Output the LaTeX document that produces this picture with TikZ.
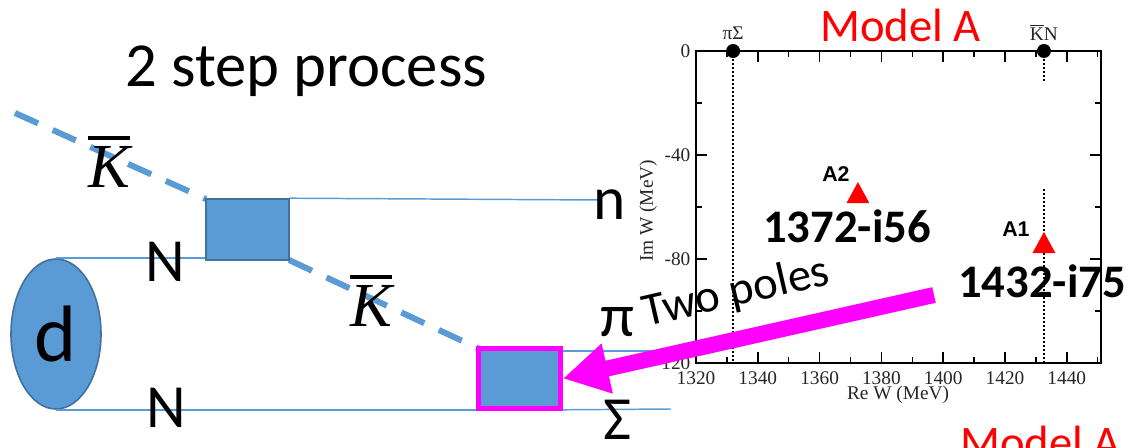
\documentclass[tikz,border=0pt]{standalone}
\usepackage{fontspec}
\setmainfont{Carlito}
\newfontfamily\timesfont{Liberation Serif}
\newfontfamily\arialfont{Liberation Sans}
\usetikzlibrary{shapes.geometric,arrows.meta}
\definecolor{vtxblue}{HTML}{5B9BD5}
\definecolor{vtxedge}{HTML}{41719C}
\definecolor{polered}{HTML}{FF0000}
\definecolor{hilite}{HTML}{FF00FF}
% letter with a bar over it: text, bar thickness, gap
\newcommand{\barred}[3]{\vbox{\hrule height #2\kern #3\hbox{#1}}}
\tikzset{
  vertex/.style={draw=vtxedge,fill=vtxblue,line width=1.2pt,inner sep=0pt},
  leg/.style={draw=vtxblue,line width=1.1pt},
  kaon/.style={draw=vtxblue,line width=4.5pt,dash pattern=on 19pt off 12pt},
  particle/.style={font=\fontsize{46}{50}\selectfont,inner sep=0pt,anchor=base},
  axislabel/.style={font=\timesfont\fontsize{14.5}{16}\selectfont,text=black!85,inner sep=1pt},
  thresh/.style={line width=1pt,dash pattern=on 1.5pt off 1.5pt},
  poleval/.style={font=\bfseries\fontsize{35}{40}\selectfont,inner sep=0pt,anchor=base west},
  polename/.style={font=\arialfont\bfseries\fontsize{16}{18}\selectfont,inner sep=0pt,anchor=base west},
  redtitle/.style={font=\fontsize{35}{40}\selectfont,text=polered,inner sep=0pt,anchor=base west}
}
\begin{document}
\begin{tikzpicture}[x=0.75pt,y=-0.75pt]
  \useasboundingbox (0,0) rectangle (1134,448);
  \clip (0,0) rectangle (1134,448);
  % pole positions, Model A
  \begin{scope}[shift={(696,51)},x=2.3175pt,y=1.95pt]
    \draw[line width=1.5pt] (0,0) rectangle (131,-120);
    \foreach \t in {20,40,...,120}
      \draw[line width=1.1pt] (\t,0) -- ++(0pt,-8pt) (\t,-120) -- ++(0pt,8pt);
    \foreach \t in {10,30,...,130}
      \draw[line width=1.1pt] (\t,0) -- ++(0pt,-4.5pt) (\t,-120) -- ++(0pt,4.5pt);
    \foreach \v in {-40,-80}
      \draw[line width=1.1pt] (0,\v) -- ++(8pt,0pt) (131,\v) -- ++(-8pt,0pt);
    \foreach \v in {-20,-60,-100}
      \draw[line width=1.1pt] (0,\v) -- ++(4.5pt,0pt) (131,\v) -- ++(-4.5pt,0pt);
    \foreach \t in {0,20,...,120} {
      \pgfmathtruncatemacro{\mev}{1320+\t}
      \node[axislabel,anchor=north,yshift=-5pt] at (\t,-120) {\mev};
    }
    \foreach \v in {0,-40,-80,-120}
      \node[axislabel,anchor=east,xshift=-3pt] at (0,\v) {\v};
    \node[axislabel] (rew) at (65.4,-132.3) {Re W (MeV)};
    \node[axislabel,rotate=90] (imw) at (-15.5,-61.5) {Im W (MeV)};
    % thresholds
    \draw[thresh] (12,0) -- (12,-120);
    \draw[thresh] (112.6,0) -- (112.6,-12.3) (112.6,-53) -- (112.6,-120);
    \fill (12,0) circle (5.25pt);
    \fill (112.6,0) circle (5.25pt);
    \node[axislabel,anchor=south,yshift=7pt] (pisig) at (12,0) {πΣ};
    \node[axislabel,anchor=south,yshift=7pt] (kbarn) at (112.6,0)
      {\barred{K}{0.8pt}{1.2pt}N};
    % poles
    \fill[polered] (48.7,-58.5) -- (56.1,-58.5) -- (52.4,-50.4) -- cycle;
    \fill[polered] (108.9,-77.7) -- (116.3,-77.7) -- (112.6,-69.6) -- cycle;
  \end{scope}
  \node[redtitle] (modeltop) at (820,42) {Model A};
  \node[redtitle] (modelbot) at (960,458) {Model A};
  \node[polename] (nameA2) at (822,182) {A2};
  \node[polename] (nameA1) at (1002,237) {A1};
  \node[poleval] (valA2) at (763,243) {1372-i56};
  \node[poleval] (valA1) at (958,298) {1432-i75};

  % two step process
  \node[font=\fontsize{47}{56}\selectfont,anchor=base west,inner sep=0pt]
    (title) at (125,87) {2 step process};
  \coordinate (kin) at (15,113);
  \coordinate (nend) at (600,200);
  \coordinate (piend) at (667,351);
  \coordinate (sigend) at (671,409);
  \draw[kaon] (kin) -- (247.5-41.5,229.5-30.5);
  \draw[kaon] (247.5+41.5,229.5+30.5) -- (519.5-41,378.5-30);
  \node[vertex,minimum width=62.25pt,minimum height=45.75pt] (vtx1) at (247.5,229.5) {};
  \node[vertex,draw=hilite,line width=3.75pt,minimum width=61.5pt,
    minimum height=45pt] (vtx2) at (519.5,378.5) {};
  \node[vertex,ellipse,minimum width=67.5pt,minimum height=112.5pt,
    font=\fontsize{60}{60}\selectfont] (deut) at (56,334) {d};
  \draw[leg] (deut.north) -- (deut.north -| vtx1.west);
  \draw[leg] (deut.south) -- (deut.south -| vtx2.west);
  \draw[leg] (vtx1.north east) -- (nend);
  \draw[leg] (vtx2.east |- piend) -- (piend);
  \draw[leg] (deut.south -| vtx2.east) -- (sigend);
  \node[font=\fontsize{47}{50}\selectfont,inner sep=0pt,anchor=base] (kbar1)
    at (109,188) {\barred{\timesfont\itshape K}{3pt}{5pt}};
  \node[font=\fontsize{47}{50}\selectfont,inner sep=0pt,anchor=base] (kbar2)
    at (371,327) {\barred{\timesfont\itshape K}{3pt}{5pt}};
  \node[particle] (nucl1) at (165,282) {N};
  \node[particle] (nucl2) at (166,427) {N};
  \node[particle] (neut) at (610,220) {n};
  \node[particle] (pion) at (617,337) {π};
  \node[particle] (sigma) at (618,440) {Σ};

  \coordinate (arrtail) at (934,295);
  \draw[hilite,line width=12pt,-{Triangle[length=34pt,width=36pt]}] (arrtail) -- (vtx2.east);
  \node[font=\fontsize{35}{40}\selectfont,rotate=13,anchor=base west,inner sep=0pt]
    (twopoles) at (646,327) {Two poles};
\end{tikzpicture}
\end{document}
